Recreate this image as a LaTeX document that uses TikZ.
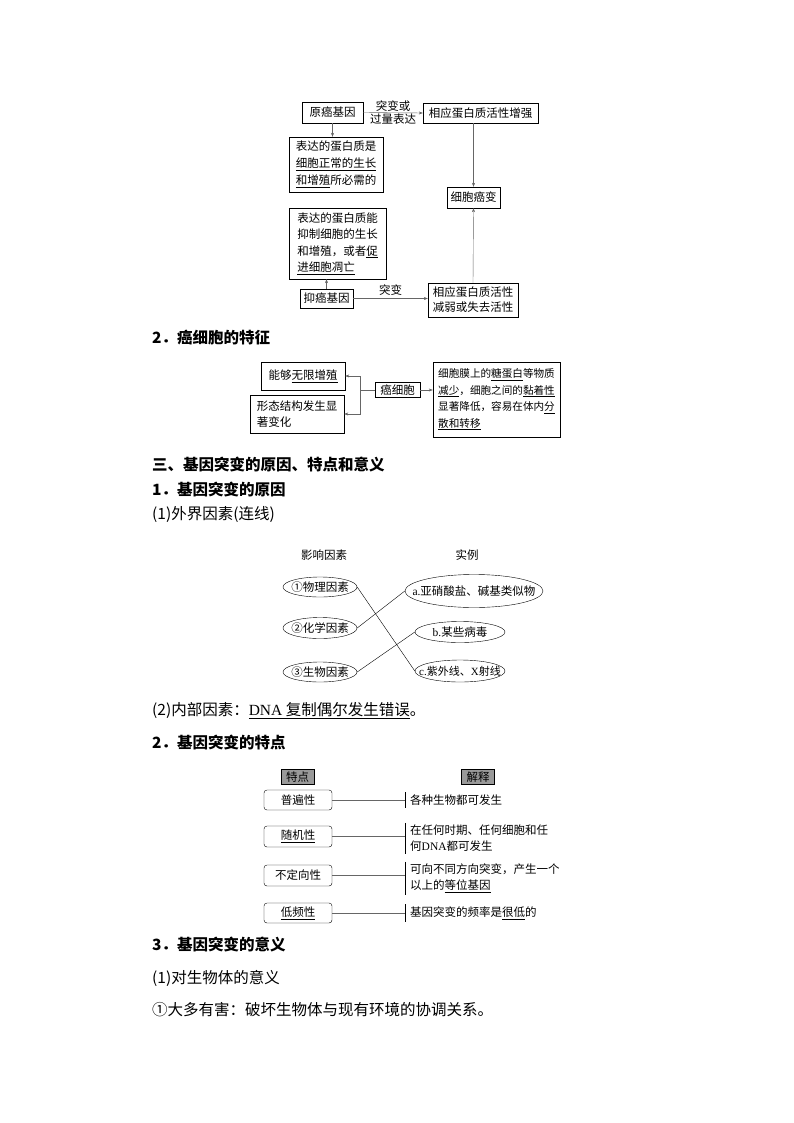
\documentclass[tikz,border=0pt]{standalone}
\usepackage{fontspec}
\setmainfont{Noto Sans CJK SC}
\newfontfamily\lat{Liberation Serif}
\usetikzlibrary{shapes.geometric, arrows.meta}

\newcommand{\ovtext}[1]{\makebox[0pt]{#1}}

\begin{document}
\begin{tikzpicture}[x=1pt, y=-1pt,
    box/.style={draw=black, inner sep=2pt, align=left, font=\fontsize{11.5}{17}\selectfont},
    oval/.style={draw=black, ellipse, inner sep=0pt, font=\fontsize{11.5}{14}\selectfont},
    rbox/.style={box, rounded corners=3pt, minimum width=68pt, minimum height=20pt},
    tag/.style={draw=black, fill=black!40, inner sep=1pt, minimum width=33pt, minimum height=15pt, font=\fontsize{11.5}{14}\selectfont},
    arr/.style={-{Stealth[length=4pt, width=3pt]}, draw=black!60},
    conn/.style={draw=black!60},
    head/.style={anchor=west, inner sep=0pt, font=\fontsize{15.5}{18}\selectfont\bfseries},
    body/.style={anchor=west, inner sep=0pt, font=\fontsize{15.5}{18}\selectfont},
    expl/.style={anchor=west, inner xsep=5pt, inner ysep=2pt, align=left, font=\fontsize{11.5}{16}\selectfont}]
    \useasboundingbox (0,0) rectangle (794,1123);

    % oncogene / tumour suppressor
    \node[box, minimum width=61pt, minimum height=21pt] (yuan) at (332.5,112.5) {原癌基因};
    \node[box, minimum width=115pt, minimum height=20pt] (zq) at (480.5,113) {相应蛋白质活性增强};
    \node[box, minimum width=94pt, minimum height=55pt] (biao1) at (336,164.5) {表达的蛋白质是\\\underline{细胞正常的生长}\\\underline{和增殖}所必需的};
    \node[box, minimum width=53pt, minimum height=21pt] (aibian) at (473.5,197.5) {细胞癌变};
    \node[box, minimum width=97pt, minimum height=71pt, font=\fontsize{11.5}{16.5}\selectfont] (biao2) at (337.5,243.5) {表达的蛋白质能\\抑制细胞的生长\\和增殖，或者\underline{促}\\\underline{进细胞凋亡}};
    \node[box, minimum width=53pt, minimum height=19pt] (yi) at (326.5,298.5) {抑癌基因};
    \node[box, minimum width=90pt, minimum height=34pt, font=\fontsize{11.5}{15}\selectfont] (jr) at (473,300) {相应蛋白质活性\\减弱或失去活性};

    \draw[arr] (yuan.east) -- (zq.west) node[midway, above, inner sep=1pt, font=\fontsize{11.5}{14}\selectfont] {突变或} node[midway, below, inner sep=1pt, font=\fontsize{11.5}{14}\selectfont] {过量表达};
    \draw[arr] (yuan.south) -- (yuan.south |- biao1.north);
    \draw[arr] (aibian.north |- zq.south) -- (aibian.north);
    \draw[arr] (jr.north) -- (aibian.south);
    \draw[arr] (yi.north) -- (yi.north |- biao2.south);
    \draw[arr] (yi.east) -- (yi.east -| jr.west) node[midway, above, inner sep=3pt, font=\fontsize{11.5}{14}\selectfont] {突变};

    \node[head] (h1) at (152,338) {2．癌细胞的特征};

    % cancer cell
    \node[box, minimum width=84pt, minimum height=28pt] (wx) at (303,376) {能够\underline{无限增殖}};
    \node[box, minimum width=94pt, minimum height=38pt, font=\fontsize{11.5}{16}\selectfont] (xt) at (297,414) {形态结构发生显\\著变化};
    \node[box, minimum width=45pt, minimum height=15pt, inner sep=1pt] (ax) at (397.5,390) {癌细胞};
    \node[box, minimum width=127pt, minimum height=75pt, font=\fontsize{10.6}{16.5}\selectfont] (tz) at (496.5,399.5) {细胞膜上的\underline{糖蛋白}等物质\\\underline{减少}，细胞之间的\underline{黏着性}\\显著降低，容易在体内\underline{分}\\\underline{散和转移}};
    \coordinate (br) at (360,390);
    \draw[conn] (ax.west) -- (br);
    \draw[arr] (br) |- (wx.east);
    \draw[arr] (br) |- (xt.east);
    \draw[arr] (ax.east) -- (ax.east -| tz.west);

    \node[head] (h2) at (152,465) {三、基因突变的原因、特点和意义};
    \node[head] (h3) at (152,490) {1．基因突变的原因};
    \node[body] (h4) at (152,514) {(1)外界因素(连线)};

    % matching
    \node[inner sep=0pt, font=\fontsize{11.5}{14}\selectfont] (yx) at (324,555) {影响因素};
    \node[inner sep=0pt, font=\fontsize{11.5}{14}\selectfont] (sl) at (467,555) {实例};
    \node[oval, minimum width=74pt, minimum height=20pt] (e1) at (320,587) {\ovtext{①物理因素}};
    \node[oval, minimum width=74pt, minimum height=21pt] (e2) at (320,628) {\ovtext{②化学因素}};
    \node[oval, minimum width=74pt, minimum height=20pt] (e3) at (320,672) {\ovtext{③生物因素}};
    \node[oval, minimum width=138pt, minimum height=33pt] (ea) at (474,591) {\ovtext{{\lat a.}亚硝酸盐、碱基类似物}};
    \node[oval, minimum width=90pt, minimum height=21pt] (eb) at (460,632) {\ovtext{{\lat b.}某些病毒}};
    \node[oval, minimum width=90pt, minimum height=22pt, font=\fontsize{11}{14}\selectfont] (ec) at (460,671) {\ovtext{{\lat c.}紫外线、{\lat X}射线}};
    \draw (e1.east) -- (ec.west);
    \draw (e2.east) -- (ea.west);
    \draw (e3.east) -- (eb.west);

    \node[body] (h5) at (152,711) {(2)内部因素：\underline{{\lat DNA} 复制偶尔发生错误}。};
    \node[head] (h6) at (152,743) {2．基因突变的特点};

    % features
    \node[tag] (td) at (297.5,777) {特点};
    \node[tag] (js) at (478,777) {解释};
    \node[rbox] (pb) at (298,800) {普遍性};
    \node[rbox, minimum height=21pt] (sj) at (298,836.5) {\underline{随机性}};
    \node[rbox, minimum height=21pt] (bd) at (298,875.5) {不定向性};
    \node[rbox] (dp) at (298,913) {\underline{低频性}};
    \node[expl] (jx1) at (405,800) {各种生物都可发生};
    \node[expl] (jx2) at (405,838.5) {在任何时期、任何细胞和任\\何{\lat DNA}都可发生};
    \node[expl] (jx3) at (405,878.5) {可向不同方向突变，产生一个\\以上的\underline{等位基因}};
    \node[expl] (jx4) at (405,913) {基因突变的频率是\underline{很低}的};
    \foreach \b/\e in {pb/jx1, sj/jx2, bd/jx3, dp/jx4} {
        \draw (\e.north west) -- (\e.south west);
        \draw[conn] (\b.east) -- (\b.east -| \e.west);
    }

    \node[head] (h7) at (152,945) {3．基因突变的意义};
    \node[body] (h8) at (152,978) {(1)对生物体的意义};
    \node[body] (h9) at (152,1010) {①大多有害：破坏生物体与现有环境的协调关系。};
\end{tikzpicture}
\end{document}
